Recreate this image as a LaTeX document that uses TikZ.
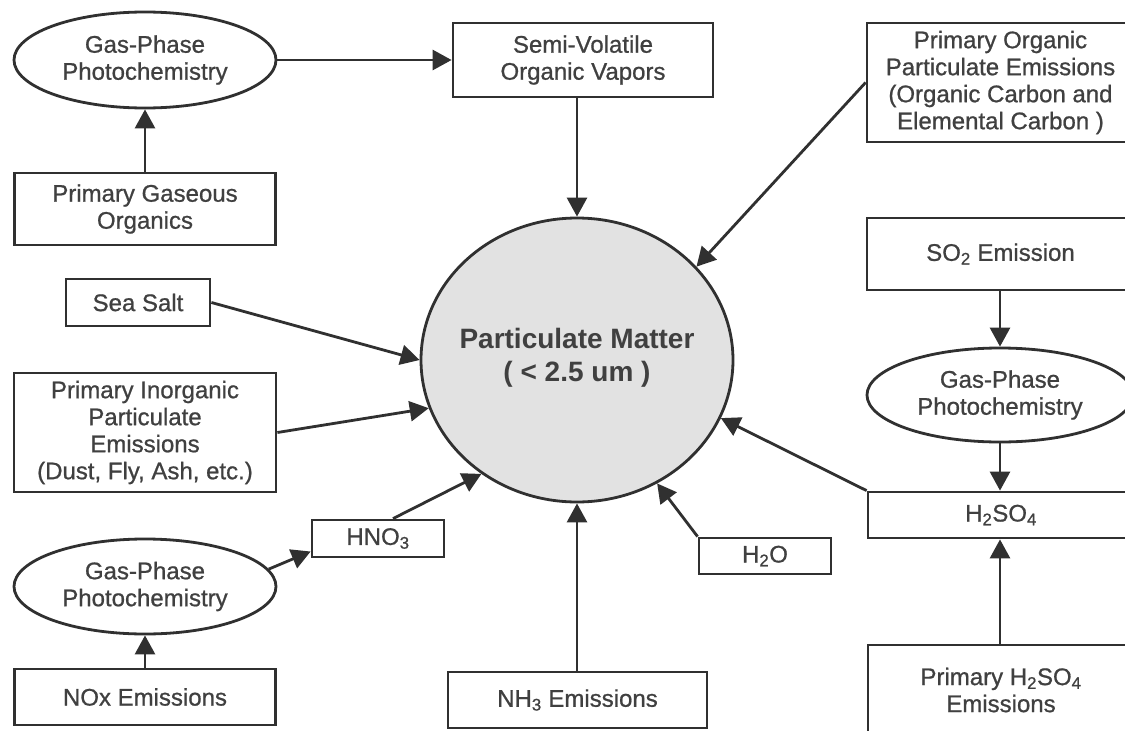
\documentclass[tikz,border=0pt]{standalone}
\usepackage{fontspec}
\setmainfont{Liberation Sans}
\newfontfamily\scanfont{Liberation Sans}[FakeBold=0.8]
\usetikzlibrary{arrows.meta,shapes.geometric}
\definecolor{ink}{HTML}{303030}
\definecolor{txt}{HTML}{404040}
\definecolor{pmfill}{HTML}{E2E2E2}
\begin{document}
\begin{tikzpicture}[x=1pt,y=-1pt,
  base/.style={draw=ink, line width=2.8pt, inner sep=0pt, align=center, text=txt,
    font=\scanfont\fontsize{24}{27}\selectfont},
  rbox/.style={base, rectangle},
  oval/.style={base, ellipse},
  conn/.style={draw=ink, line width=2.8pt, -{Triangle[length=19pt,width=20pt]}},
]
\path[use as bounding box, fill=white] (0,0) rectangle (1125,731);
\clip (0,0) rectangle (1125,731);

% left column
\node[oval, minimum width=262pt, minimum height=96pt] (gp1) at (145,60) {Gas-Phase\\Photochemistry};
\node[rbox, minimum width=261pt, minimum height=72pt] (pg) at (145,209) {Primary Gaseous\\Organics};
\node[rbox, minimum width=144pt, minimum height=47pt] (ss) at (138,302.5) {Sea Salt};
\node[rbox, minimum width=262pt, minimum height=119pt] (pi) at (145,432.5) {Primary Inorganic\\Particulate\\Emissions\\(Dust, Fly, Ash, etc.)};
\node[oval, minimum width=262pt, minimum height=95pt] (gp3) at (145,586.5) {Gas-Phase\\Photochemistry};
\node[rbox, minimum width=261pt, minimum height=56pt] (nox) at (145,697) {NOx Emissions};

% middle
\node[rbox, minimum width=260pt, minimum height=74pt] (sv) at (583,60) {Semi-Volatile\\Organic Vapors};
\node[base, ellipse, fill=pmfill, minimum width=312pt, minimum height=284pt] (pm) at (577,360) {};
\node[text=txt, align=center, font=\bfseries\fontsize{28}{33}\selectfont] (pmt) at (577,358) {Particulate Matter\\( < 2.5 um )};
\node[rbox, minimum width=132pt, minimum height=37pt] (hno) at (378,538.5) {HNO\textsubscript{3}};
\node[rbox, minimum width=132pt, minimum height=36pt] (h2o) at (765,556) {H\textsubscript{2}O};
\node[rbox, minimum width=259pt, minimum height=56pt] (nh3) at (577.5,700) {NH\textsubscript{3} Emissions};

% right column
\node[rbox, minimum width=267pt, minimum height=119pt] (po) at (1000.5,82.5) {Primary Organic\\Particulate Emissions\\(Organic Carbon and\\Elemental Carbon )};
\node[rbox, minimum width=267pt, minimum height=72pt] (so2) at (1000.5,254) {SO\textsubscript{2} Emission};
\node[oval, minimum width=266pt, minimum height=94pt] (gp2) at (1000,395) {Gas-Phase\\Photochemistry};
\node[rbox, minimum width=266pt, minimum height=46pt] (hs) at (1001,515) {H\textsubscript{2}SO\textsubscript{4}};
\node[rbox, minimum width=266pt, minimum height=90pt] (ph) at (1001,690) {Primary H\textsubscript{2}SO\textsubscript{4}\\Emissions};

% connectors
\draw[conn] (pg) -- (gp1);
\draw[conn] (gp1.east) -- (gp1.east -| sv.west);
\draw[conn] (sv.south -| pm.north) -- (pm.north);
\draw[conn] (po.west) -- (pm.38);
\draw[conn] (ss.east) -- (pm.180);
\draw[conn] (pi.east) -- (pm.198);
\draw[conn] (nox) -- (gp3);
\draw[conn] (gp3.8) -- ([yshift=-13pt]hno.west);
\draw[conn] ([xshift=15pt]hno.north) -- (pm.230);
\draw[conn] (nh3.north -| pm.south) -- (pm.south);
\draw[conn] (h2o.north west) -- (pm.303);
\draw[conn] (hs.north west) -- (pm.338);
\draw[conn] (so2.south -| gp2.north) -- (gp2.north);
\draw[conn] (gp2.south) -- (gp2.south |- hs.north);
\draw[conn] (ph.north -| gp2.south) -- (gp2.south |- hs.south);
\end{tikzpicture}
\end{document}
